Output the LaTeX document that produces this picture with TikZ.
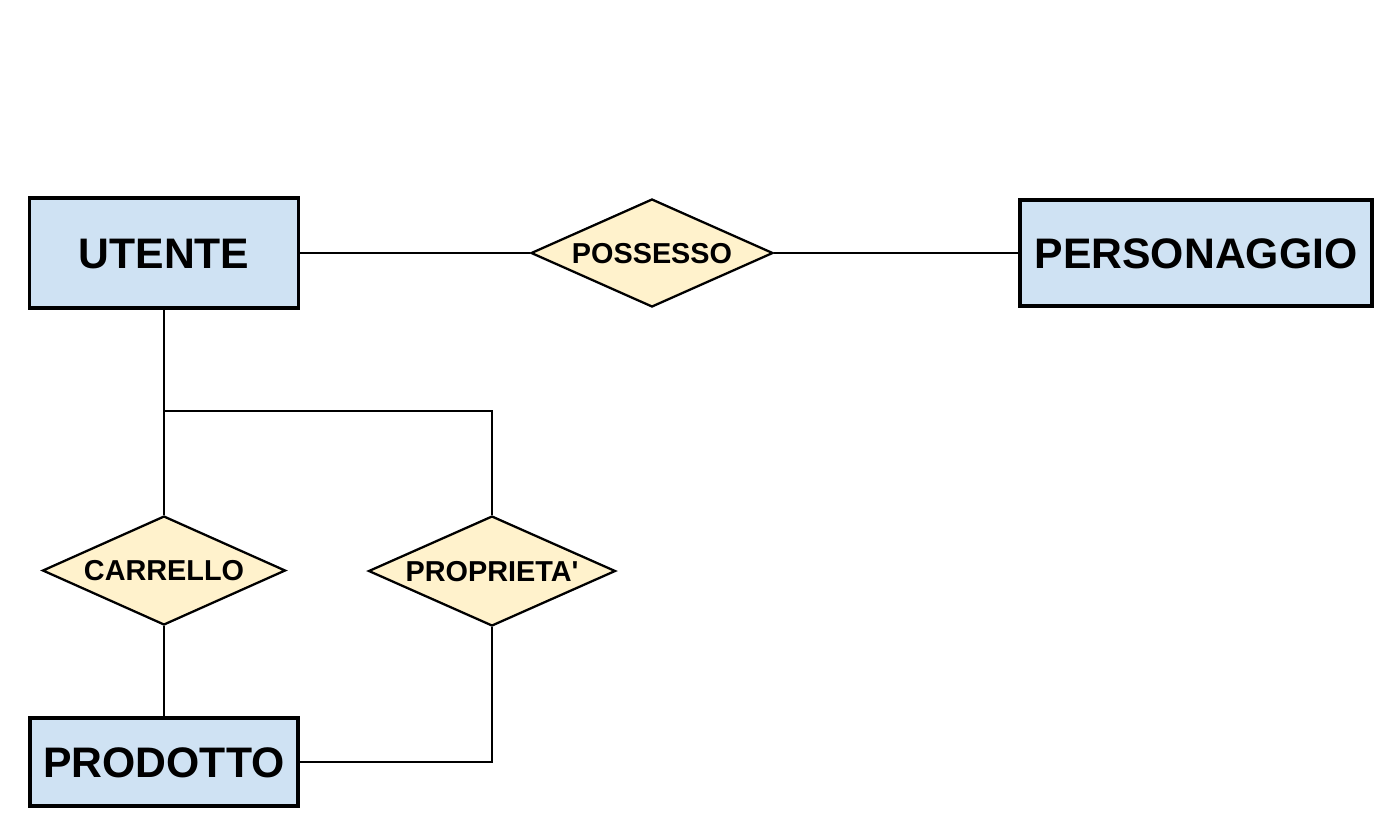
\documentclass[tikz,border=0pt]{standalone}
\usepackage{fontspec}
\setmainfont{Liberation Sans}
\usetikzlibrary{calc}
\usetikzlibrary{shapes.geometric}
\definecolor{entfill}{HTML}{CFE2F3}
\definecolor{relfill}{HTML}{FFF2CC}
\tikzset{
    entita/.style={draw=black,fill=entfill,line width=2pt,rectangle,
        inner sep=0pt,text height=17.3pt,text depth=0pt,
        font=\fontsize{24.3}{28}\selectfont\bfseries},
    relazione/.style={draw=black,fill=relfill,line width=1.3pt,diamond,
        aspect=2.2,inner sep=0pt,text height=11.7pt,text depth=0pt,
        font=\fontsize{16.4}{20}\selectfont\bfseries},
    legame/.style={line width=1.6pt}
}
\begin{document}
\begin{tikzpicture}[x=0.02cm,y=-0.02cm]
\useasboundingbox (0,0) rectangle (1395,826);

% entita'
\node[entita,minimum width=5.38cm,minimum height=2.2cm] (utente) at (164,253) {UTENTE};
\node[entita,minimum width=7.04cm,minimum height=2.12cm] (personaggio) at (1196,253) {PERSONAGGIO};
\node[entita,minimum width=5.36cm,minimum height=1.76cm] (prodotto) at (164,762) {PRODOTTO};

% relazioni
\node[relazione,minimum width=4.84cm,minimum height=2.16cm] (possesso) at (652,253) {POSSESSO};
\node[relazione,minimum width=4.86cm,minimum height=2.18cm] (carrello) at (164,570.5) {CARRELLO};
\node[relazione,minimum width=4.94cm,minimum height=2.2cm] (proprieta) at (492,571) {PROPRIETA\textquotesingle};

\coordinate (snodo) at (164,411);

% collegamenti
\draw[legame] (utente.east) -- (possesso.west);
\draw[legame] (possesso.east) -- (personaggio.west);
\draw[legame] (utente.south) -- (snodo) -| (proprieta.north);
\draw[legame] (snodo) -- (carrello.north);
\draw[legame] (carrello.south) -- (prodotto.north);
\draw[legame] (prodotto.east) -| (proprieta.south);

\end{tikzpicture}
\end{document}
